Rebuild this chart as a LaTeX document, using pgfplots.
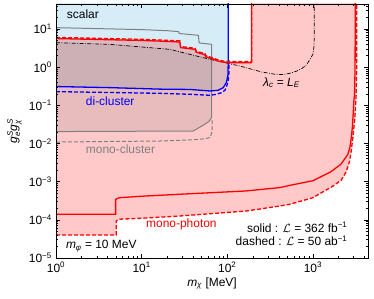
\documentclass[border=0pt]{standalone}
\usepackage{amsmath}
\usepackage{fontspec}
\setmainfont{Liberation Sans}
\usepackage{pgfplots}
\pgfplotsset{compat=1.18}
\definecolor{lblue}{RGB}{214,237,247}
\definecolor{cred}{RGB}{255,0,0}
\definecolor{cblue}{RGB}{0,0,255}
\definecolor{cgray}{RGB}{128,128,128}
\begin{document}
\fontsize{12}{14}\selectfont
\begin{tikzpicture}
\begin{axis}[
  scale only axis, width=312bp, height=254bp,
  xmode=log, ymode=log,
  xmin=1, xmax=4400, ymin=1e-5, ymax=45,
  axis on top,
  axis line style={line width=0.8bp},
  tick style={line width=0.6bp, black},
  major tick length=4.5bp, minor tick length=2.5bp,
  xtick={1,10,100,1000},
  xticklabels={10\textsuperscript{0},10\textsuperscript{1},10\textsuperscript{2},10\textsuperscript{3}},
  minor xtick={2,3,4,5,6,7,8,9,20,30,40,50,60,70,80,90,200,300,400,500,600,700,800,900,2000,3000,4000},
  ytick={1e-5,1e-4,1e-3,1e-2,1e-1,1,10},
  yticklabels={10\textsuperscript{−5},10\textsuperscript{−4},10\textsuperscript{−3},10\textsuperscript{−2},10\textsuperscript{−1},10\textsuperscript{0},10\textsuperscript{1}},
  minor ytick={2e-5,3e-5,4e-5,5e-5,6e-5,7e-5,8e-5,9e-5,2e-4,3e-4,4e-4,5e-4,6e-4,7e-4,8e-4,9e-4,2e-3,3e-3,4e-3,5e-3,6e-3,7e-3,8e-3,9e-3,0.02,0.03,0.04,0.05,0.06,0.07,0.08,0.09,0.2,0.3,0.4,0.5,0.6,0.7,0.8,0.9,2,3,4,5,6,7,8,9,20,30,40},
  ticklabel style={font=\fontsize{12}{14}\selectfont},
  xlabel={\textit{m}\textsubscript{\textit{χ}} [MeV]},
  ylabel={$\textit{g}^{\textit{S}}_{\textit{e}}\textit{g}^{\textit{S}}_{\textit{χ}}$},
  label style={font=\fontsize{12}{14}\selectfont},
  xlabel style={yshift=3bp},
  ylabel style={yshift=-1bp},
]
% light blue (scalar) region above di-cluster line
\addplot[fill=lblue, draw=none] coordinates {
 (1,0.31) (4.3,0.29) (16.4,0.265) (36.7,0.26) (62.8,0.237) (78,0.247) (89.8,0.29) (97.9,0.40) (101.7,0.61) (102.6,1.2) (102.8,100) (1,100)} --cycle;
% pink (mono-photon) region
\addplot[fill=cred, fill opacity=0.21, draw=none] coordinates {
 (1,4.0e-5) (5.05,4.0e-5) (5.05,9.5e-5) (5.6,1.04e-4) (10,1.1e-4) (28,1.26e-4) (170,1.71e-4) (412,2.31e-4) (539,2.56e-4) (1001,3.8e-4) (1143,4.54e-4) (1667,7.35e-4) (2138,1.09e-3) (2447,1.81e-3) (2679,3.4e-3) (2798,6.25e-3) (2929,0.0143) (3066,0.0388) (3148,0.0871) (3200,0.194) (3243,0.875) (3262,100)
 (193,100) (193,1.40) (102,1.40) (90,1.44) (78,1.54) (70,1.71) (56,2.0) (55,2.25) (43.5,2.62) (42,3.12) (28.5,3.47) (28,4.86) (16.4,5.14) (10,5.35) (1,6.0)} --cycle;
% gray (mono-cluster) region
\addplot[fill=cgray, fill opacity=0.18, draw=none] coordinates {
 (1,0.0205) (40,0.0212) (54.8,0.0318) (61.2,0.038) (65.7,0.048) (65.7,1.55) (62.8,1.6) (21.4,2.92) (4.27,3.95) (1,4.38)} --cycle;

% gray lines
\addplot[cgray, line width=1bp] coordinates {
 (1,10.8) (10,9.6) (20,9.0) (27,8.5) (27.5,7.6) (46,6.8) (47,4.3) (65.7,3.95) (65.7,0.048) (61.2,0.038) (54.8,0.0318) (40,0.0212) (1,0.0205)};
\addplot[cgray, line width=1bp, dash pattern=on 4bp off 2bp] coordinates {
 (1,0.0109) (16.4,0.0116) (40,0.0125) (55,0.0133) (62.7,0.0143) (65.5,0.018) (66.7,0.025) (66.7,0.045)};
% dash-dot lambda_c = L_E
\addplot[black, line width=0.7bp, dash pattern=on 4bp off 1.5bp on 0.8bp off 1.5bp] coordinates {
 (1,4.38) (4.27,3.95) (21.4,2.92) (62.8,1.6) (140,1.07) (250,0.75) (360,0.65) (450,0.64) (539,0.69) (650,0.79) (750,0.93) (851,1.18) (922,1.6) (1000,2.16) (1030,3.5) (1036,6) (1036,100)};
% blue di-cluster
\addplot[cblue, line width=1.3bp] coordinates {
 (1,0.31) (4.3,0.29) (16.4,0.265) (36.7,0.26) (62.8,0.237) (78,0.247) (89.8,0.29) (97.9,0.40) (101.7,0.61) (102.6,1.2) (102.8,100)};
\addplot[cblue, line width=1.3bp, dash pattern=on 4bp off 2bp] coordinates {
 (1,0.228) (16.4,0.206) (36.7,0.194) (62.8,0.183) (74.8,0.194) (86,0.215) (94.3,0.25) (98.5,0.32) (102.6,0.43) (104.6,0.72) (104.8,1.5)};
% red mono-photon lower solid
\addplot[cred, line width=1.3bp] coordinates {
 (1,1.4e-4) (4.97,1.4e-4) (4.97,3.45e-4) (5.5,3.8e-4) (10,4.15e-4) (28,4.68e-4) (165,5.7e-4) (412,7.0e-4) (539,8.0e-4) (1001,1.06e-3) (1143,1.23e-3) (1622,1.82e-3) (2123,2.85e-3) (2561,5.2e-3) (2703,7.96e-3) (2813,0.0145) (2890,0.0266) (2953,0.058) (3010,0.130) (3066,0.195) (3108,1.01) (3130,100)};
\addplot[cred, line width=1.3bp, dash pattern=on 4bp off 2bp] coordinates {
 (1,4.0e-5) (5.05,4.0e-5) (5.05,9.5e-5) (5.6,1.04e-4) (10,1.1e-4) (28,1.26e-4) (170,1.71e-4) (412,2.31e-4) (539,2.56e-4) (1001,3.8e-4) (1143,4.54e-4) (1667,7.35e-4) (2138,1.09e-3) (2447,1.81e-3) (2679,3.4e-3) (2798,6.25e-3) (2929,0.0143) (3066,0.0388) (3148,0.0871) (3200,0.194) (3243,0.875) (3262,100)};
% red upper
\addplot[cred, line width=1.3bp] coordinates {
 (1,5.6) (10,5.0) (16.4,4.8) (28,4.54) (28.5,3.24) (42,2.92) (43.5,2.45) (55,2.1) (56,1.87) (70,1.6) (78,1.44) (90,1.35) (102,1.31) (192,1.31) (192,100)};
\addplot[cred, line width=1.3bp, dash pattern=on 4bp off 2bp] coordinates {
 (1,6.0) (10,5.35) (16.4,5.14) (28,4.86) (28.5,3.47) (42,3.12) (43.5,2.62) (55,2.25) (56,2.0) (70,1.71) (78,1.54) (90,1.44) (102,1.40) (193,1.40) (193,100)};

% texts
\node[anchor=west] at (axis cs:1.2,24) {scalar};
\node[anchor=west, text=cblue] at (axis cs:2.0,0.127) {di-cluster};
\node[anchor=west, text=cgray] at (axis cs:2.0,0.0070) {mono-cluster};
\node[anchor=west] at (axis cs:235,0.39) {\textit{λ}\textsubscript{\textit{c}} = \textit{L}\textsubscript{\textit{E}}};
\node[anchor=west, text=cred] at (axis cs:10.1,7.6e-5) {mono-photon};
\node[anchor=west] at (axis cs:1.17,2.04e-5) {\textit{m}\textsubscript{\textit{φ}} = 10 MeV};
\node[anchor=east] at (axis cs:2830,6.4e-5) {solid : $\mathcal{L}$ = 362 fb\textsuperscript{−1}};
\node[anchor=east] at (axis cs:2830,2.8e-5) {dashed : $\mathcal{L}$ = 50 ab\textsuperscript{−1}};
\end{axis}
\pgfresetboundingbox
\path[use as bounding box] ([xshift=-56bp,yshift=-40bp]current axis.south west) rectangle ([xshift=6bp,yshift=4bp]current axis.north east);
\end{tikzpicture}
\end{document}
